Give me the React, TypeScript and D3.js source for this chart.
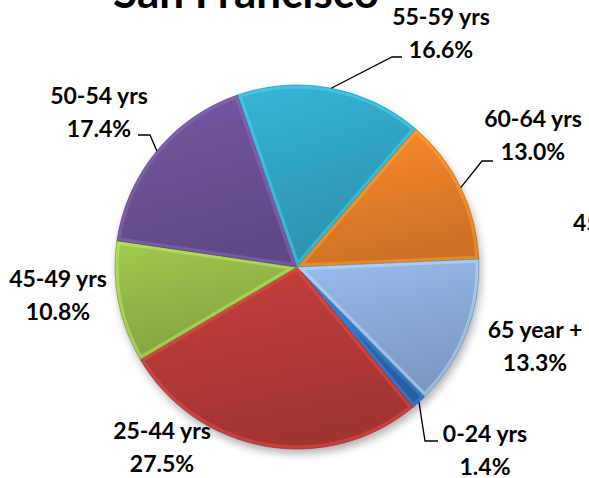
import React from 'react';
import * as d3 from 'd3';

const titleText = 'San Francisco';
const categories = ['0-24 yrs', '25-44 yrs', '45-49 yrs', '50-54 yrs', '55-59 yrs', '60-64 yrs', '65 year +'];
const values = [1.4, 27.5, 10.8, 17.4, 16.6, 13.0, 13.3];
const colors = ['#2d69b0', '#b33a36', '#91b647', '#6b5093', '#31a3c2', '#e57e28', '#8aaad8'];
// label layout: centre x and first-line baseline
const labelX = [485, 162, 58, 99, 441, 533, 535];
const labelY = [442, 439, 287, 104, 25, 127, 338];
const leaderElbows: ([number, number][] | null)[] = [
  [[425, 441], [438, 441]],
  null,
  null,
  [[150, 135], [138, 135]],
  [[392, 57], [402, 57]],
  [[482, 161], [493, 161]],
  null,
];
const strayLabel = '45-49 yrs';

const W = 589;
const H = 478;
const cx = 297;
const cy = 267;
const R = 182;
const startDeg = 135.4;
const font = 'Lato, "Open Sans", sans-serif';

export default function App() {
  const a0 = (startDeg * Math.PI) / 180;
  const pie = d3
    .pie<number>()
    .sort(null)
    .value((d) => d)
    .startAngle(a0)
    .endAngle(a0 + 2 * Math.PI);
  const arcs = pie(values);
  const arc = d3.arc<d3.PieArcDatum<number>>().innerRadius(0).outerRadius(R);
  const edge = d3.arc<d3.PieArcDatum<number>>().innerRadius(R).outerRadius(R);
  const line = d3.line();

  return (
    <svg
      width={W}
      height={H}
      style={{ position: 'absolute', left: 0, top: 0, display: 'block', background: '#fff' }}
    >
      <defs>
        <filter id="shadow" x="-20%" y="-20%" width="140%" height="140%">
          <feGaussianBlur stdDeviation="4" />
        </filter>
        {arcs.map((a, i) => {
          const c = d3.color(colors[i])!;
          return (
            <linearGradient key={i} id={`g${i}`} x1="0" y1="0" x2="0.3" y2="1">
              <stop offset="0" stopColor={c.brighter(0.3).formatHex()} />
              <stop offset="0.5" stopColor={colors[i]} />
              <stop offset="1" stopColor={c.darker(0.3).formatHex()} />
            </linearGradient>
          );
        })}
        {arcs.map((a, i) => (
          <clipPath key={i} id={`c${i}`}>
            <path d={arc(a) || ''} />
          </clipPath>
        ))}
      </defs>

      <text
        x={246}
        y={7.5}
        textAnchor="middle"
        fontFamily={font}
        fontWeight={700}
        fontSize={44}
        fill="#000"
      >
        {titleText}
      </text>

      <g transform={`translate(${cx},${cy})`}>
        <circle cx={2} cy={5} r={R} fill="#000" opacity={0.3} filter="url(#shadow)" />
        {arcs.map((a, i) => {
          const c = d3.color(colors[i])!;
          return (
            <g key={i}>
              <path d={arc(a) || ''} fill={`url(#g${i})`} />
              <path
                d={arc(a) || ''}
                fill="none"
                stroke={c.brighter(1).formatHex()}
                strokeOpacity={0.4}
                strokeWidth={7}
                clipPath={`url(#c${i})`}
              />
              <path
                d={arc(a) || ''}
                fill="none"
                stroke={c.darker(0.6).formatHex()}
                strokeOpacity={0.6}
                strokeWidth={1}
              />
            </g>
          );
        })}
      </g>

      {arcs.map((a, i) => {
        const el = leaderElbows[i];
        if (!el) return null;
        const [ex, ey] = edge.centroid(a);
        const pts: [number, number][] = [[cx + ex, cy + ey], ...el];
        return <path key={i} d={line(pts) || ''} fill="none" stroke="#000" strokeWidth={1.3} />;
      })}

      {arcs.map((a, i) => (
        <text
          key={i}
          textAnchor="middle"
          fontFamily={font}
          fontWeight={700}
          fontSize={23}
          fill="#000"
        >
          <tspan x={labelX[i]} y={labelY[i]}>
            {categories[i]}
          </tspan>
          <tspan x={labelX[i]} y={labelY[i] + 33}>
            {`${values[i].toFixed(1)}%`}
          </tspan>
        </text>
      ))}

      <text x={573} y={231} fontFamily={font} fontWeight={700} fontSize={23} fill="#000">
        {strayLabel}
      </text>
    </svg>
  );
}
